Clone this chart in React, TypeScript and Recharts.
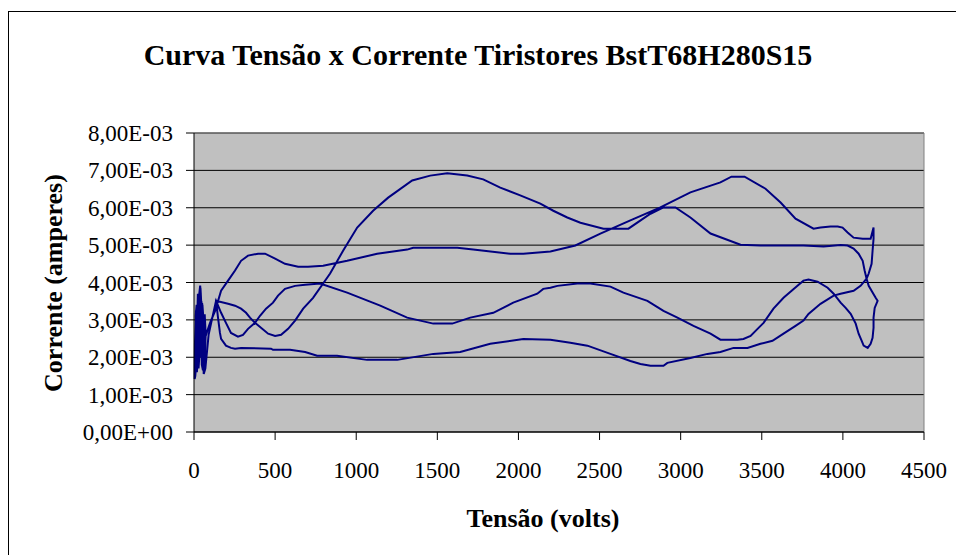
import { LineChart, Line, XAxis, YAxis, CartesianGrid, ReferenceLine } from "recharts";

// tensão (volts) e corrente (mA), na ordem em que a curva foi traçada
const tensao = [
  45, 20, 8, 4, 6, 14, 22, 30, 38, 42, 48, 55, 60, 52, 40, 28, 35, 46, 58, 68,
  99, 130, 167, 210, 253, 290, 333, 395, 438, 500, 561, 642, 703, 796, 944, 1129, 1314, 1351, 1623, 1721,
  1950, 2030, 2197, 2351, 2505, 2690, 2875, 3060, 3245, 3313, 3394, 3523, 3616, 3708, 3819, 3862, 3924, 3968, 3998, 4029,
  4066, 4122, 4171, 4189, 4189, 4183, 4177, 4159, 4146, 4109, 4066, 3986, 3943, 3862, 3788, 3757, 3708, 3634, 3566, 3492,
  3412, 3326, 3245, 3165, 3060, 2918, 2894, 2814, 2752, 2690, 2567, 2425, 2320, 2197, 2030, 1826, 1641, 1475, 1253, 1067,
  882, 759, 685, 592, 487, 475, 290, 253, 228, 197, 167, 160, 148, 136,
  210, 253, 290, 321, 345, 376, 413, 457, 500, 537, 580, 623, 673, 734, 839, 919, 1006, 1104, 1197, 1345,
  1456, 1561, 1684, 1783, 1888, 2011, 2135, 2215, 2301, 2382, 2524, 2678, 2814, 2894, 2968, 3060, 3184, 3369, 3492, 3757,
  3881, 3986, 4029, 4066, 4097, 4122, 4134, 4146, 4159, 4183, 4202, 4214, 4196, 4189, 4189, 4183, 4171, 4153, 4128, 4116,
  4097, 4079, 4048, 4017, 3986, 3943, 3906, 3844, 3788, 3757, 3720, 3634, 3572, 3511, 3474, 3431, 3387, 3350, 3245, 3184,
  3079, 2980, 2894, 2795, 2647, 2567, 2443, 2363, 2240, 2197, 2153, 2116, 1968, 1845, 1703, 1592, 1475, 1314, 1148, 944,
  777, 685, 623, 561, 518, 487, 444, 407, 376, 333, 302, 271, 228, 197, 167, 136,
  120, 90, 70, 60, 50, 40, 30, 18, 10, 16, 25, 35, 45, 55, 62, 50, 38, 26, 15, 8,
  12, 22, 33, 43, 52, 64, 72, 66, 56, 44, 32, 24, 18, 28, 40, 50,
];

const corrente = [
  3.0, 2.2, 1.5, 1.42, 2.4, 3.3, 2.0, 3.6, 3.92, 3.7, 1.8, 1.65, 2.9, 3.4, 2.5, 1.7, 3.2, 3.5, 2.1, 2.52,
  2.92, 3.24, 3.78, 4.05, 4.32, 4.58, 4.72, 4.77, 4.77, 4.64, 4.5, 4.42, 4.42, 4.45, 4.58, 4.77, 4.88, 4.93, 4.93, 4.88,
  4.77, 4.77, 4.83, 4.99, 5.31, 5.66, 6.01, 6.41, 6.68, 6.83, 6.83, 6.51, 6.14, 5.71, 5.44, 5.47, 5.5, 5.5, 5.47, 5.34,
  5.2, 5.17, 5.17, 5.47, 5.17, 4.85, 4.5, 4.24, 4.1, 3.91, 3.78, 3.7, 3.65, 3.43, 3.16, 2.98, 2.84, 2.63, 2.44, 2.36,
  2.25, 2.25, 2.14, 2.09, 1.98, 1.85, 1.77, 1.77, 1.82, 1.9, 2.09, 2.31, 2.39, 2.47, 2.49, 2.36, 2.14, 2.09, 1.93, 1.93,
  2.04, 2.04, 2.14, 2.2, 2.2, 2.23, 2.25, 2.23, 2.25, 2.31, 2.49, 2.65, 3.06, 3.51,
  3.43, 3.38, 3.3, 3.19, 3.06, 2.92, 2.79, 2.63, 2.57, 2.6, 2.76, 2.98, 3.3, 3.59, 4.24, 4.85, 5.47, 5.92, 6.27, 6.73,
  6.86, 6.92, 6.86, 6.76, 6.54, 6.33, 6.11, 5.92, 5.74, 5.6, 5.44, 5.44, 5.84, 6.01, 6.01, 5.74, 5.31, 5.01, 4.99, 4.99,
  4.96, 5.0, 4.99, 4.91, 4.77, 4.58, 4.32, 4.1, 3.91, 3.73, 3.59, 3.51, 3.32, 3.06, 2.79, 2.52, 2.36, 2.25, 2.31, 2.44,
  2.63, 2.9, 3.16, 3.32, 3.46, 3.7, 3.86, 4.02, 4.08, 4.05, 3.91, 3.59, 3.3, 2.92, 2.76, 2.57, 2.49, 2.47, 2.47, 2.63,
  2.84, 3.06, 3.24, 3.51, 3.73, 3.89, 3.97, 3.97, 3.91, 3.86, 3.83, 3.7, 3.46, 3.19, 3.06, 2.9, 2.9, 3.06, 3.38, 3.73,
  3.97, 3.94, 3.91, 3.83, 3.65, 3.46, 3.3, 3.11, 2.92, 2.76, 2.6, 2.55, 2.65, 2.92, 3.19, 3.51,
  3.2, 2.6, 1.7, 1.55, 3.0, 3.85, 2.4, 1.6, 3.1, 3.4, 1.9, 3.3, 2.2, 1.9, 2.8, 3.45, 2.0, 3.55, 2.3, 1.7,
  3.25, 2.1, 3.6, 2.45, 3.3, 1.75, 2.6, 3.15, 2.05, 3.5, 2.25, 3.7, 2.7, 1.95, 3.1, 2.6,
];

const xTicks = [0, 500, 1000, 1500, 2000, 2500, 3000, 3500, 4000, 4500];
const yTicks = [0, 0.001, 0.002, 0.003, 0.004, 0.005, 0.006, 0.007, 0.008];

const data = tensao.map((v, k) => ({ v, i: corrente[k] / 1000 }));

const FONT = "'Liberation Serif', 'Times New Roman', serif";

function fmtE(n: number) {
  const [m, e] = n.toExponential(2).split("e");
  const sign = e[0] === "-" ? "-" : "+";
  return m.replace(".", ",") + "E" + sign + e.replace(/[+-]/, "").padStart(2, "0");
}

function XTick(props: any) {
  const { x, y, payload } = props;
  return (
    <text x={x} y={y} dy={17} textAnchor="middle" fill="#000" style={{ fontFamily: FONT, fontSize: 23 }}>
      {payload.value}
    </text>
  );
}

function YTick(props: any) {
  const { x, y, payload } = props;
  return (
    <text x={x} y={y} dy={8} textAnchor="end" fill="#000" style={{ fontFamily: FONT, fontSize: 23 }}>
      {fmtE(payload.value)}
    </text>
  );
}

export default function App() {
  return (
    <div style={{ position: "relative", width: 956, height: 555, overflow: "hidden", background: "#fff" }}>
      <style>{"body{margin:0;overflow:hidden}"}</style>
      <div
        style={{
          position: "absolute",
          left: 8,
          top: 11,
          width: 1000,
          height: 600,
          borderLeft: "1px solid #000",
          borderTop: "1px solid #000",
        }}
      />
      <div
        style={{
          position: "absolute",
          left: 0,
          width: 956,
          top: 37,
          textAlign: "center",
          fontFamily: FONT,
          fontWeight: "bold",
          fontSize: 30,
          lineHeight: "36px",
        }}
      >
        Curva Tensão x Corrente Tiristores BstT68H280S15
      </div>

      <div style={{ position: "absolute", left: 0, top: 0 }}>
        <LineChart
          width={956}
          height={555}
          data={data}
          margin={{ top: 133, right: 32, bottom: 63, left: 94 }}
        >
          <CartesianGrid fill="#C0C0C0" stroke="#000" vertical={false} />
          <ReferenceLine y={0.008} stroke="#808080" />
          <ReferenceLine x={4500} stroke="#808080" />
          <XAxis
            type="number"
            dataKey="v"
            domain={[0, 4500]}
            ticks={xTicks}
            height={60}
            stroke="#000"
            tickSize={8}
            tickMargin={21}
            tick={<XTick />}
          />
          <YAxis
            type="number"
            domain={[0, 0.008]}
            ticks={yTicks}
            width={100}
            stroke="#000"
            tickSize={8}
            tickMargin={13}
            tick={<YTick />}
          />
          <Line
            type="linear"
            dataKey="i"
            stroke="#000080"
            strokeWidth={2}
            dot={false}
            isAnimationActive={false}
          />
        </LineChart>
      </div>

      <div
        style={{
          position: "absolute",
          left: 343,
          width: 400,
          top: 504,
          textAlign: "center",
          fontFamily: FONT,
          fontWeight: "bold",
          fontSize: 26,
          lineHeight: "30px",
        }}
      >
        Tensão (volts)
      </div>
      <div
        style={{
          position: "absolute",
          left: 54 - 150,
          top: 283 - 15,
          width: 300,
          textAlign: "center",
          transform: "rotate(-90deg)",
          fontFamily: FONT,
          fontWeight: "bold",
          fontSize: 26,
          lineHeight: "30px",
        }}
      >
        Corrente (amperes)
      </div>
    </div>
  );
}
